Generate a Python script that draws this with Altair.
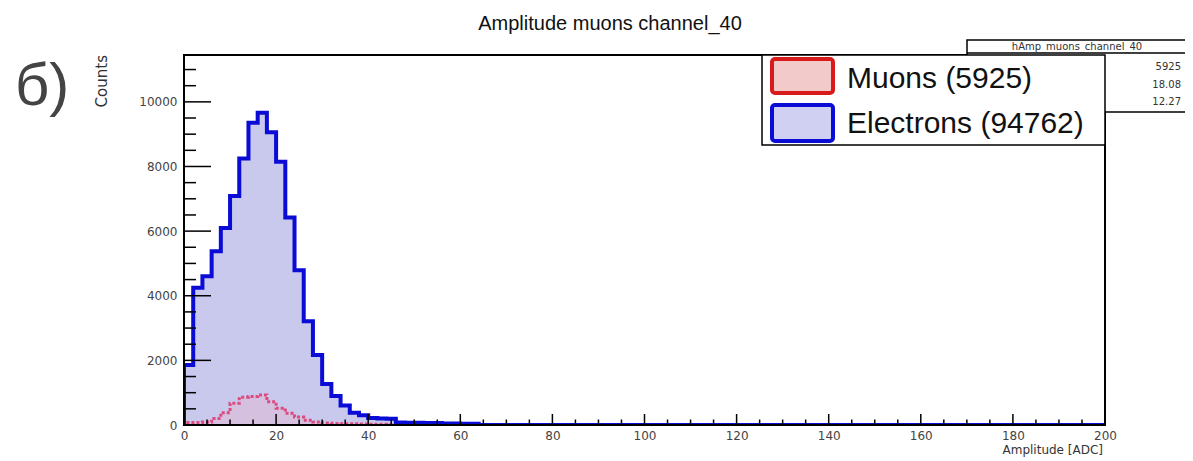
import altair as alt
import pandas as pd

# ---------------- data ----------------
BIN_WIDTH = 2
X_MIN, X_MAX = 0, 200

# Electron counts per 2-ADC bin starting at 0 (bins after the listed ones are empty)
electrons = [1860, 4250, 4600, 5380, 6100, 7090, 8250, 9350, 9660, 9060,
             8150, 6420, 4790, 3210, 2170, 1270, 900, 600, 380, 300,
             220, 200, 190, 80, 70, 70, 60, 60, 50, 50, 40, 40]
# Muon counts per 2-ADC bin starting at 0
muons = [80, 80, 90, 200, 380, 670, 860, 880, 930, 720,
         520, 360, 250, 150, 90, 60, 50, 40, 40, 30,
         20, 20, 15, 10]

x_major = [0, 20, 40, 60, 80, 100, 120, 140, 160, 180, 200]
x_minor = [v for v in range(0, 201, 5) if v % 20 != 0]
y_major = [0, 2000, 4000, 6000, 8000, 10000]
y_minor = [v for v in range(500, 11001, 500) if v % 2000 != 0]
Y_TOP = 11450

title_text = "Amplitude muons channel_40"
stats_name = "hAmp_muons_channel_40"
stats_values = ["5925", "18.08", "12.27"]
legend_labels = ["Muons (5925)", "Electrons (94762)"]
panel_label = "б)"
x_title = "Amplitude [ADC]"
y_title = "Counts"

# ---------------- build tables ----------------
NBINS = (X_MAX - X_MIN) // BIN_WIDTH


def step_table(counts, name, closed):
    full = list(counts) + [0] * (NBINS - len(counts))
    rows = []
    if closed:
        rows.append({"x": X_MIN, "y": 0, "s": name})
    for k, c in enumerate(full):
        rows.append({"x": X_MIN + k * BIN_WIDTH, "y": c, "s": name})
    rows.append({"x": X_MAX, "y": full[-1], "s": name})
    if closed:
        rows.append({"x": X_MAX, "y": 0, "s": name})
    df = pd.DataFrame(rows)
    df["i"] = range(len(df))
    df["y0"] = 0
    return df


el_l = step_table(electrons, "Electrons", True)
mu_l = step_table(muons, "Muons", True)
el_a = step_table(electrons, "Electrons", False)
mu_a = step_table(muons, "Muons", False)

W, H = 921, 370
xscale = alt.Scale(domain=[X_MIN, X_MAX], nice=False, zero=False)
yscale = alt.Scale(domain=[0, Y_TOP], nice=False)

LABEL_FONT = "DejaVu Sans"
MAIN_FONT = "Liberation Sans"
BLUE = "#0b0bd6"
RED = "#d81a1a"
MU = "#dc4a7f"

x_axis = alt.Axis(values=x_major, ticks=False, domain=False, grid=False, title=None,
                  labelFont=LABEL_FONT, labelFontSize=12, labelColor="#444", format="d",
                  labelPadding=5, labelFlush=False, labelOverlap=False)
y_axis = alt.Axis(values=y_major, ticks=False, domain=False, grid=False, title=None,
                  labelFont=LABEL_FONT, labelFontSize=12, labelColor="#444", format="d",
                  labelPadding=7, labelFlush=False, labelOverlap=False)


def X(f):
    return alt.X(f, scale=xscale, axis=x_axis)


def Y(f):
    return alt.Y(f, scale=yscale, axis=y_axis)


el_area = alt.Chart(el_a).mark_area(interpolate="step-after", color="#c9c9ed", clip=True).encode(
    x=X("x:Q"), y=Y("y:Q"), y2="y0:Q")
mu_area = alt.Chart(mu_a).mark_area(interpolate="step-after", color="#e7b6cf", opacity=0.45,
                                    clip=True).encode(
    x=X("x:Q"), y=Y("y:Q"), y2="y0:Q")
mu_line = alt.Chart(mu_l).mark_line(interpolate="step-after", color=MU, strokeWidth=3,
                                    strokeDash=[3, 2], clip=True).encode(
    x=X("x:Q"), y=Y("y:Q"), order="i:Q")
el_line = alt.Chart(el_l).mark_line(interpolate="step-after", color=BLUE, strokeWidth=4, clip=True).encode(
    x=X("x:Q"), y=Y("y:Q"), order="i:Q")

# ticks pointing inwards (ROOT style)
xt_major = alt.Chart(pd.DataFrame({"v": x_major})).mark_rule(color="black", strokeWidth=1.5).encode(
    x=X("v:Q"), y=alt.value(H), y2=alt.value(H - 11))
xt_minor = alt.Chart(pd.DataFrame({"v": x_minor})).mark_rule(color="black", strokeWidth=1.5).encode(
    x=X("v:Q"), y=alt.value(H), y2=alt.value(H - 5.5))
yt_major = alt.Chart(pd.DataFrame({"v": y_major})).mark_rule(color="black", strokeWidth=1.5).encode(
    y=Y("v:Q"), x=alt.value(0), x2=alt.value(27))
yt_minor = alt.Chart(pd.DataFrame({"v": y_minor})).mark_rule(color="black", strokeWidth=1.5).encode(
    y=Y("v:Q"), x=alt.value(0), x2=alt.value(12))

one = pd.DataFrame({"k": [0]})


def box(x1, x2, y1, y2, fill="white", stroke="black", sw=1.5, radius=0, opacity=1):
    return alt.Chart(one).mark_rect(fill=fill, stroke=stroke, strokeWidth=sw, cornerRadius=radius,
                                    fillOpacity=opacity).encode(
        x=alt.value(x1), x2=alt.value(x2), y=alt.value(y1), y2=alt.value(y2))


def text(t, x, y, size, font=MAIN_FONT, color="#111", align="left", baseline="alphabetic", angle=0):
    return alt.Chart(one).mark_text(fontSize=size, font=font, color=color, align=align,
                                    baseline=baseline, angle=angle).encode(
        x=alt.value(x), y=alt.value(y), text=alt.value(t))


frame = alt.Chart(one).mark_rect(fill=None, fillOpacity=0, stroke="black", strokeWidth=2).encode(
    x=alt.value(0), x2=alt.value(W), y=alt.value(0), y2=alt.value(H))

# stats box (partly hidden by the legend)
stats_box = box(783, 1002, -15, 57)
stats_div = alt.Chart(one).mark_rule(color="black", strokeWidth=1.5).encode(
    x=alt.value(783), x2=alt.value(1002), y=alt.value(-2))
stats_title = text(stats_name, 893, -8, 10, font=LABEL_FONT, color="#333", align="center", baseline="middle")
stats_vals = [text(v, 997, yy, 10, font=LABEL_FONT, color="#333", align="right", baseline="middle")
              for v, yy in zip(stats_values, [12, 30, 47])]

# legend
legend_box = box(578, W, 0, 90)
leg_mu = box(588, 649, 4, 38, fill="#f3caca", stroke=RED, sw=4, radius=3)
leg_el = box(588, 649, 50, 86, fill="#d0d0f3", stroke=BLUE, sw=4, radius=3)
leg_t1 = text(legend_labels[0], 663, 33, 30)
leg_t2 = text(legend_labels[1], 663, 78, 30)

title = text(title_text, 426, -25, 20, align="center")
panel = text(panel_label, -169, 50, 60, color="#444")
ytitle = text(y_title, -82, 0, 15, font=LABEL_FONT, color="#333", align="right", baseline="middle", angle=270)
xtitle = text(x_title, 919, 395, 12, font=LABEL_FONT, color="#333", align="right", baseline="middle")

chart = alt.layer(
    el_area, mu_area, mu_line, el_line,
    xt_major, xt_minor, yt_major, yt_minor, frame,
    stats_box, stats_div, stats_title, *stats_vals,
    legend_box, leg_mu, leg_el, leg_t1, leg_t2,
    title, panel, ytitle, xtitle,
).properties(
    width=W, height=H,
    autosize=alt.AutoSizeParams(type="none"),
    padding={"left": 176, "top": 47, "right": 80, "bottom": 32},
    background="white",
).configure_view(stroke=None)

chart.save("out.html", embed_options={"renderer": "svg", "actions": False})
